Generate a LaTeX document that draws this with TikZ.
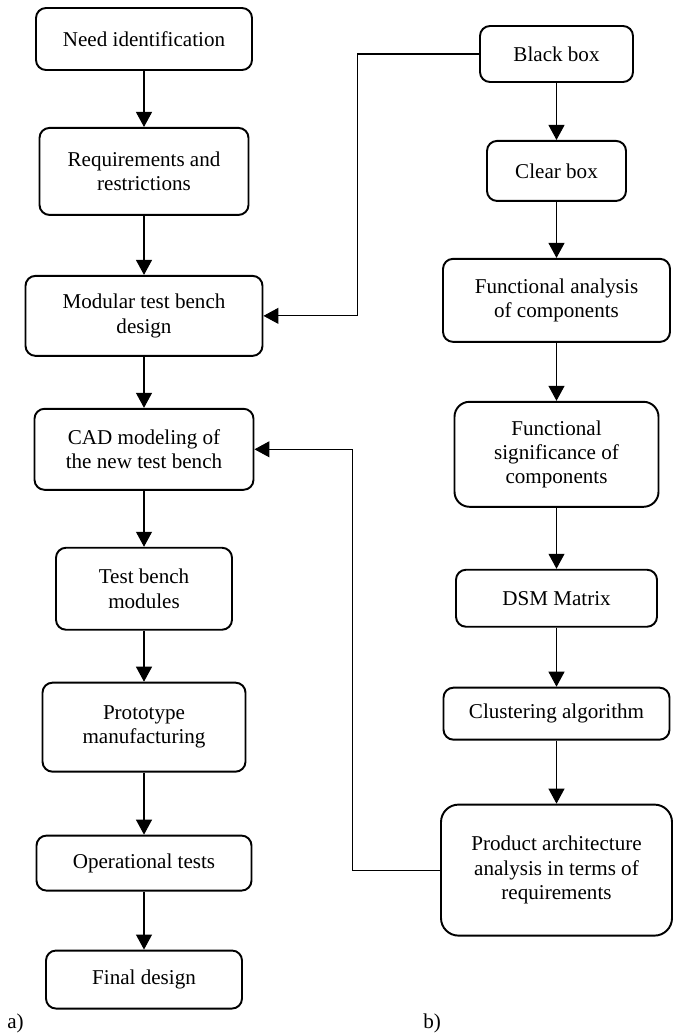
\documentclass[tikz,border=0pt]{standalone}
\usepackage{fontspec}
\setmainfont{Liberation Serif}
\usepackage{tikz}
\usetikzlibrary{arrows.meta, positioning}

\begin{document}
\begin{tikzpicture}[
  stage/.style={rectangle, rounded corners=0.2cm, draw=black, line width=1.1pt,
                minimum width=4cm, minimum height=1.2cm, inner sep=2pt,
                font=\fontsize{12}{13.8}\selectfont, align=center},
  arr/.style={-{Triangle[width=0.32cm,length=0.3cm]}, line width=0.6pt},
  fb/.style={-{Triangle[width=0.32cm,length=0.3cm]}, line width=0.6pt},
  tag/.style={font=\fontsize{12}{13.8}\selectfont, inner sep=0pt},
]
\useasboundingbox (0,0) rectangle (13.48,-20.68);

% a) design process
\node[stage, minimum width=4.32cm, minimum height=1.24cm] (need) at (2.88,-0.78) {Need identification};
\node[stage, minimum width=4.18cm, minimum height=1.74cm, below=1.12cm of need] (req) {Requirements and\\restrictions};
\node[stage, minimum width=4.74cm, minimum height=1.60cm, below=1.18cm of req]  (mod) {Modular test bench\\design};
\node[stage, minimum width=4.38cm, minimum height=1.62cm, below=1.02cm of mod]  (cad) {CAD modeling of\\the new test bench};
\node[stage, minimum width=3.52cm, minimum height=1.64cm, below=1.12cm of cad]  (tbm) {Test bench\\modules};
\node[stage, minimum width=4.06cm, minimum height=1.78cm, below=1.02cm of tbm]  (proto) {Prototype\\manufacturing};
\node[stage, minimum width=4.30cm, minimum height=1.10cm, below=1.24cm of proto] (optest) {Operational tests};
\node[stage, minimum width=3.92cm, minimum height=1.16cm, below=1.16cm of optest] (final) {Final design};

% b) modularity analysis
\node[stage, minimum width=3.06cm, minimum height=1.12cm] (black) at (11.13,-1.08) {Black box};
\node[stage, minimum width=2.78cm, minimum height=1.20cm, below=1.14cm of black] (clear) {Clear box};
\node[stage, minimum width=4.54cm, minimum height=1.66cm, below=1.12cm of clear] (fana) {Functional analysis\\of components};
\node[stage, minimum width=4.08cm, minimum height=2.10cm, rounded corners=0.3cm, below=1.16cm of fana] (fsig) {Functional\\significance of\\components};
\node[stage, minimum width=4.02cm, minimum height=1.14cm, below=1.22cm of fsig] (dsm) {DSM Matrix};
\node[stage, minimum width=4.52cm, minimum height=1.04cm, below=1.18cm of dsm]  (clust) {Clustering algorithm};
\node[stage, minimum width=4.62cm, minimum height=2.62cm, rounded corners=0.35cm, below=1.26cm of clust] (parch) {Product architecture\\analysis in terms of\\requirements};

\node[tag, anchor=west] (tagA) at (0.14,-20.46) {a)};
\node[tag, anchor=west] (tagB) at (8.46,-20.46) {b)};

\draw[arr] (need) -- (req);
\draw[arr] (req) -- (mod);
\draw[arr] (mod) -- (cad);
\draw[arr] (cad) -- (tbm);
\draw[arr] (tbm) -- (proto);
\draw[arr] (proto) -- (optest);
\draw[arr] (optest) -- (final);

\draw[arr] (black) -- (clear);
\draw[arr] (clear) -- (fana);
\draw[arr] (fana) -- (fsig);
\draw[arr] (fsig) -- (dsm);
\draw[arr] (dsm) -- (clust);
\draw[arr] (clust) -- (parch);

% feedback to the left column
\draw[fb] (black.west) -- ++(-2.44,0) |- (mod.east);
\draw[fb] (parch.west) -- ++(-1.76,0) |- (cad.east);
\end{tikzpicture}
\end{document}
